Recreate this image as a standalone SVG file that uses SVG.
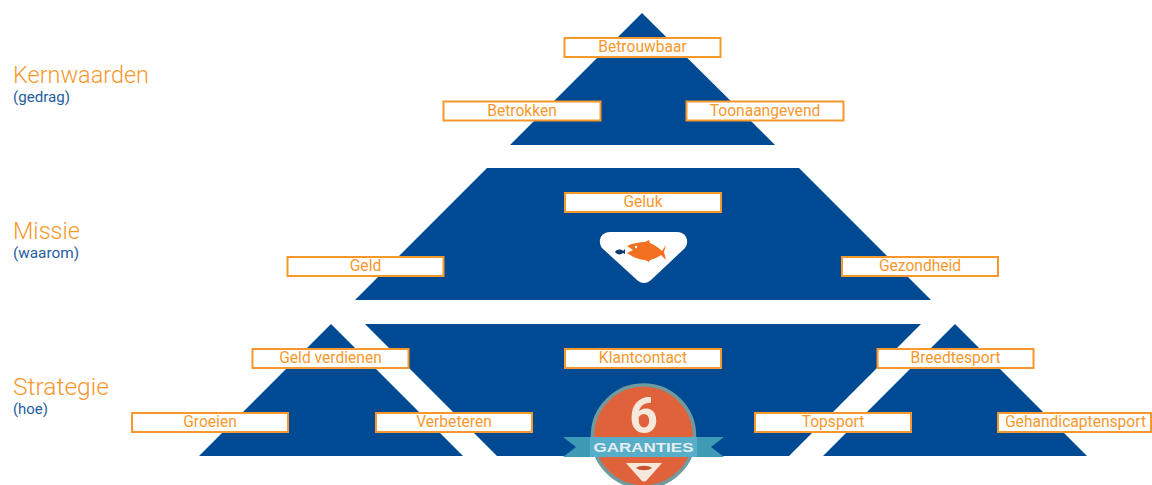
<svg xmlns="http://www.w3.org/2000/svg" width="1152" height="485" viewBox="0 0 1152 485">
<style>
.shape{fill:#004a93}
.box rect{fill:#fff;stroke:#f7982d;stroke-width:2}
.box text{font-family:"Roboto","Noto Sans",sans-serif;font-size:15.6px;fill:#f7982d;text-anchor:middle}
.h{font-family:"Roboto","Noto Sans",sans-serif;font-size:23px;font-weight:300;fill:#f7982d}
.s{font-family:"Roboto","Noto Sans",sans-serif;font-size:14px;fill:#1f5c9e}
</style>
<rect width="1152" height="485" fill="#fff"/>
<g id="shapes">
<polygon class="shape" points="642,13 775,145 510,145"/>
<polygon class="shape" points="487,168 799,168 931,300 355,300"/>
<polygon class="shape" points="331,324 463,456 199,456"/>
<polygon class="shape" points="365,324 921,324 789,456 497,456"/>
<polygon class="shape" points="955,324 1087,456 823,456"/>
</g>
<g id="labels">
<text class="h" x="13" y="83" textLength="136" lengthAdjust="spacingAndGlyphs">Kernwaarden</text>
<text class="s" x="13" y="102" textLength="57" lengthAdjust="spacingAndGlyphs">(gedrag)</text>
<text class="h" x="13" y="239" textLength="67" lengthAdjust="spacingAndGlyphs">Missie</text>
<text class="s" x="13" y="258" textLength="66" lengthAdjust="spacingAndGlyphs">(waarom)</text>
<text class="h" x="13" y="395" textLength="96" lengthAdjust="spacingAndGlyphs">Strategie</text>
<text class="s" x="13" y="414" textLength="35" lengthAdjust="spacingAndGlyphs">(hoe)</text>
</g>
<g id="fish-badge">
<path d="M610,232H677C686,232 690,241 685,248L651,280C647,284 641,284 637,280L602,248C597,241 601,232 610,232Z" fill="#fff"/>
<path d="M627,246C633,243 640,242 645,242L649,240L650,243C655,245 659,248 662,251L666,245L664,252L666,260L661,255C657,258 653,259 650,260L649,262L645,260C639,260 633,257 627,253L633,250Z" fill="#f37021"/>
<circle cx="636" cy="247" r="1.2" fill="#fff"/>
<path d="M615,252C617,249 621,249 623,251L625,249V254L623,253C621,255 617,255 615,252Z" fill="#0f3a6e"/>
</g>
<g id="badge">
<circle cx="643.500" cy="436" r="51" fill="#e0623a" stroke="#6f9aa0" stroke-width="3.500"/>
<text x="643.500" y="433" font-family="Roboto,'Noto Sans',sans-serif" font-size="50" font-weight="700" fill="#f6e9dc" text-anchor="middle">6</text>
<polygon points="563,437 724,437 711,447 724,457 563,457 576,447" fill="#3f9ab6"/>
<rect x="590" y="437" width="107" height="20" fill="#56aec8"/>
<text x="643.500" y="452" font-family="'Liberation Sans',sans-serif" font-size="13.500" font-weight="700" fill="#e8eef0" text-anchor="middle" textLength="100" lengthAdjust="spacingAndGlyphs">GARANTIES</text>
<path d="M626,463H662L647,480C645,482 643,482 641,480Z" fill="#f6e9dc"/>
<path d="M636,468C640,465 648,465 652,468C648,471 640,471 636,468Z" fill="#c8502e"/>
</g>
<g id="n-betrouwbaar" class="box"><rect x="564.500" y="38" width="156" height="19"/><text x="642.500" y="52">Betrouwbaar</text></g>
<g id="n-betrokken" class="box"><rect x="443.500" y="101.500" width="157" height="19"/><text x="522" y="116">Betrokken</text></g>
<g id="n-toonaangevend" class="box"><rect x="686.500" y="101.500" width="157" height="19"/><text x="765" y="116">Toonaangevend</text></g>
<g id="n-geluk" class="box"><rect x="565" y="193" width="156" height="19"/><text x="643" y="207">Geluk</text></g>
<g id="n-geld" class="box"><rect x="287.500" y="257" width="156" height="19"/><text x="365.500" y="271">Geld</text></g>
<g id="n-gezondheid" class="box"><rect x="842" y="257" width="156" height="19"/><text x="920" y="271">Gezondheid</text></g>
<g id="n-geldverdienen" class="box"><rect x="252.500" y="349" width="156" height="19"/><text x="330.500" y="363">Geld verdienen</text></g>
<g id="n-klantcontact" class="box"><rect x="565" y="349" width="156" height="19"/><text x="643" y="363">Klantcontact</text></g>
<g id="n-breedtesport" class="box"><rect x="877.500" y="349" width="156" height="19"/><text x="955.500" y="363">Breedtesport</text></g>
<g id="n-groeien" class="box"><rect x="132" y="413" width="156" height="19"/><text x="210" y="427">Groeien</text></g>
<g id="n-verbeteren" class="box"><rect x="376" y="413" width="156" height="19"/><text x="454" y="427">Verbeteren</text></g>
<g id="n-topsport" class="box"><rect x="755" y="413" width="156" height="19"/><text x="833" y="427">Topsport</text></g>
<g id="n-gehandicaptensport" class="box"><rect x="998" y="413" width="153" height="19"/><text x="1075.500" y="427">Gehandicaptensport</text></g>
</svg>
